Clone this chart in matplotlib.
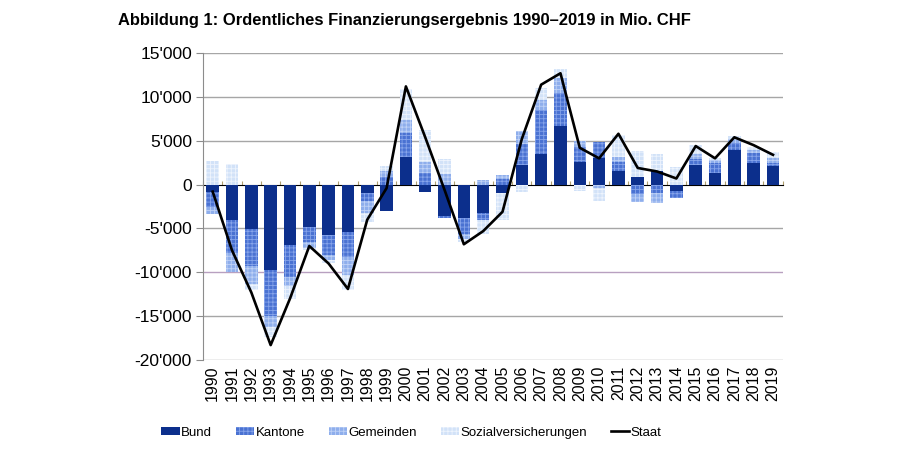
import numpy as np
import matplotlib
matplotlib.use("Agg")
import matplotlib.pyplot as plt
from matplotlib.ticker import FuncFormatter, NullFormatter

plt.rcParams['font.family'] = ['Liberation Sans', 'DejaVu Sans']
plt.rcParams['hatch.linewidth'] = 0.6

years = list(range(1990, 2020))
bund = [-800, -4000, -5100, -9700, -6900, -4800, -5700, -5400, -900, -3000,
        3200, -800, -3600, -3800, -3200, -1000, 2200, 3500, 6700, 2600,
        3000, 1500, 900, 1500, -700, 2200, 1300, 3900, 2500, 2100]
kantone = [-1700, -3800, -4200, -5300, -3600, -1700, -2300, -2900, -1000, 900,
           2700, 1300, -200, -1800, -800, 600, 2400, 5000, 3800, 1700,
           1900, 1100, -1100, -1000, -800, 700, 1200, 900, 1100, 400]
gemeinden = [-800, -2200, -2000, -1200, -1100, -700, -600, -2000, -1300, 700,
             1500, 1300, 1200, -600, 500, 500, 1500, 1200, 1700, 700,
             -400, 600, -900, -1100, 0, 600, 300, 400, 300, 500]
sozial = [2700, 2300, -700, -1200, -1500, -200, -300, -1700, -1100, 500,
          3500, 3600, 1700, -300, -1600, -3000, -800, 1300, 1000, -700,
          -1500, 2500, 2900, 2000, 2000, 1000, 200, 400, 400, 700]
staat = [-800, -7500, -12300, -18300, -13000, -7000, -9000, -11900, -4000, -400,
         11200, 5400, -600, -6800, -5300, -3100, 5200, 11400, 12700, 4200,
         3000, 5800, 1900, 1500, 700, 4400, 3000, 5400, 4500, 3400]

series = [
    ("Bund", bund, dict(facecolor="#0c2f8c", edgecolor="#0c2f8c", hatch=None)),
    ("Kantone", kantone, dict(facecolor="#4a72d2", edgecolor="#86a4ea", hatch="++++")),
    ("Gemeinden", gemeinden, dict(facecolor="#8eaeec", edgecolor="#c0d2f6", hatch="++++")),
    ("Sozialversicherungen", sozial, dict(facecolor="#d2e2f8", edgecolor="#eef4fd", hatch="++++")),
]

fig = plt.figure(figsize=(9, 4.5), dpi=100)
ax = fig.add_axes([0.2256, 0.2, 0.644, 0.682])

x = np.arange(len(years))
pos_bottom = np.zeros(len(years))
neg_bottom = np.zeros(len(years))
handles = []
for name, vals, st in series:
    v = np.array(vals, dtype=float)
    bottoms = np.where(v >= 0, pos_bottom, neg_bottom)
    b = ax.bar(x, v, width=0.65, bottom=bottoms, linewidth=0, label=name,
               zorder=3, **st)
    handles.append(b)
    pos_bottom = pos_bottom + np.clip(v, 0, None)
    neg_bottom = neg_bottom + np.clip(v, None, 0)

ln, = ax.plot(x, staat, color="black", lw=1.9, zorder=5, label="Staat")
handles.append(ln)

ymin, ymax = -20000, 15000
ax.set_ylim(ymin, ymax)
ax.set_xlim(-0.5, len(years) - 0.5)
yt = np.arange(-20000, 15001, 5000)
ax.set_yticks(yt)
ax.yaxis.set_major_formatter(FuncFormatter(lambda v, p: f"{int(v):,}".replace(",", "'")))
for t in yt:
    c = "#b8a0c0" if t == -10000 else "#a6a6a6"
    if t != 0:
        ax.axhline(t, color=c, lw=1, zorder=1)

for s in ["top", "right", "bottom"]:
    ax.spines[s].set_visible(False)
ax.spines["left"].set_color("#8c8c8c")
ax.tick_params(axis="y", length=5, color="#8c8c8c", labelsize=12.5, pad=3)
ax.set_xticks(x)
ax.set_xticklabels([str(y) for y in years], rotation=90)
ax.tick_params(axis="x", length=0, labelsize=11.5, pad=4)

zero_frac = (0 - ymin) / (ymax - ymin)
sec = ax.secondary_xaxis(zero_frac)
sec.spines["bottom"].set_color("#8c8c8c")
sec.set_xticks(np.arange(len(years) + 1) - 0.5)
sec.xaxis.set_major_formatter(NullFormatter())
sec.tick_params(axis="x", length=3, color="#b0a070", direction="out")

fig.text(0.131, 0.955, "Abbildung 1: Ordentliches Finanzierungsergebnis 1990\u20132019 in Mio. CHF",
         fontsize=11.9, fontweight="bold", ha="left", va="center")

fig.legend(handles=handles, labels=["Bund", "Kantone", "Gemeinden", "Sozialversicherungen", "Staat"],
           loc="center", bbox_to_anchor=(0.457, 0.038), ncol=5, frameon=False,
           fontsize=9.5, handlelength=1.4, handleheight=0.6, handletextpad=0.1,
           columnspacing=1.8)

fig.savefig("out.png", dpi=100)
